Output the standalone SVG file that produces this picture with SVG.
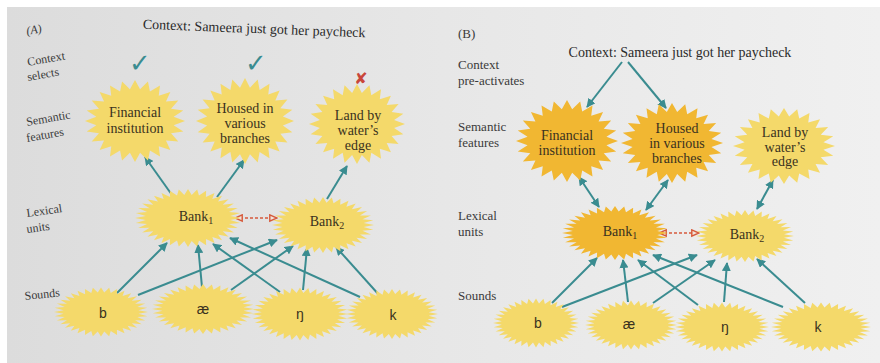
<svg xmlns="http://www.w3.org/2000/svg" xmlns:xlink="http://www.w3.org/1999/xlink" width="880" height="363" viewBox="0 0 880 363">
<style>
.lbl{font-family:"Liberation Serif","DejaVu Serif",serif;font-size:12px;fill:#3a3a3a}
.lblb{font-family:"Liberation Serif","DejaVu Serif",serif;font-size:13px;fill:#3a3a3a}
.ttl{font-family:"Liberation Serif","DejaVu Serif",serif;font-size:14px;fill:#2a2a2a}
.nt{font-family:"Liberation Serif","DejaVu Serif",serif;font-size:14px;fill:#3a3220;text-anchor:middle}
.bk{font-family:"Liberation Serif","DejaVu Serif",serif;font-size:14px;fill:#3a3220;text-anchor:middle}
.snd{font-family:"Liberation Sans","DejaVu Sans",sans-serif;font-size:14px;fill:#3a3220;text-anchor:middle}
.y{fill:#f4d96a}
.o{fill:#f1b732}
.ar{stroke:#3a8c90;stroke-width:2;fill:none;marker-end:url(#ah)}
.ar2{stroke:#3a8c90;stroke-width:2;fill:none;marker-end:url(#ah);marker-start:url(#ah)}
.rd{stroke:#d65a3c;stroke-width:1.6;stroke-dasharray:3 2;fill:none;marker-end:url(#rh);marker-start:url(#rh)}
</style>
<defs>
<linearGradient id="bg" x1="0" y1="0" x2="1" y2="0">
<stop offset="0" stop-color="#dcdcdc"/>
<stop offset="0.5" stop-color="#e7e7e7"/>
<stop offset="1" stop-color="#f0f0f0"/>
</linearGradient>
<marker id="ah" viewBox="0 0 10 10" refX="9" refY="5" markerWidth="4.5" markerHeight="4.5" orient="auto-start-reverse"><path d="M0,0 L10,5 L0,10 z" fill="#3a8c90"/></marker>
<marker id="rh" viewBox="0 0 10 10" refX="9" refY="5" markerWidth="9" markerHeight="9" markerUnits="userSpaceOnUse" orient="auto-start-reverse"><path d="M1,1.5 L9,5 L1,8.5 z" fill="#f1e4dc" stroke="#d65a3c" stroke-width="1.6"/></marker>
<polygon id="s24" points="100,0 77.33,10.18 96.59,25.88 72.06,29.85 86.6,50 61.89,47.49 70.71,70.71 47.49,61.89 50,86.6 29.85,72.06 25.88,96.59 10.18,77.33 0,100 -10.18,77.33 -25.88,96.59 -29.85,72.06 -50,86.6 -47.49,61.89 -70.71,70.71 -61.89,47.49 -86.6,50 -72.06,29.85 -96.59,25.88 -77.33,10.18 -100,0 -77.33,-10.18 -96.59,-25.88 -72.06,-29.85 -86.6,-50 -61.89,-47.49 -70.71,-70.71 -47.49,-61.89 -50,-86.6 -29.85,-72.06 -25.88,-96.59 -10.18,-77.33 0,-100 10.18,-77.33 25.88,-96.59 29.85,-72.06 50,-86.6 47.49,-61.89 70.71,-70.71 61.89,-47.49 86.6,-50 72.06,-29.85 96.59,-25.88 77.33,-10.18"/>
<polygon id="s36" points="100,0 79.7,6.97 98.48,17.36 77.27,20.71 93.97,34.2 72.5,33.81 86.6,50 65.53,45.89 76.6,64.28 56.57,56.57 64.28,76.6 45.89,65.53 50,86.6 33.81,72.5 34.2,93.97 20.71,77.27 17.36,98.48 6.97,79.7 0,100 -6.97,79.7 -17.36,98.48 -20.71,77.27 -34.2,93.97 -33.81,72.5 -50,86.6 -45.89,65.53 -64.28,76.6 -56.57,56.57 -76.6,64.28 -65.53,45.89 -86.6,50 -72.5,33.81 -93.97,34.2 -77.27,20.71 -98.48,17.36 -79.7,6.97 -100,0 -79.7,-6.97 -98.48,-17.36 -77.27,-20.71 -93.97,-34.2 -72.5,-33.81 -86.6,-50 -65.53,-45.89 -76.6,-64.28 -56.57,-56.57 -64.28,-76.6 -45.89,-65.53 -50,-86.6 -33.81,-72.5 -34.2,-93.97 -20.71,-77.27 -17.36,-98.48 -6.97,-79.7 0,-100 6.97,-79.7 17.36,-98.48 20.71,-77.27 34.2,-93.97 33.81,-72.5 50,-86.6 45.89,-65.53 64.28,-76.6 56.57,-56.57 76.6,-64.28 65.53,-45.89 86.6,-50 72.5,-33.81 93.97,-34.2 77.27,-20.71 98.48,-17.36 79.7,-6.97"/>
</defs>
<rect x="0" y="0" width="880" height="363" fill="#ffffff"/>
<rect x="7" y="7" width="873" height="356" fill="url(#bg)"/>

<g id="labels-a">
<text class="lbl" x="27" y="35" transform="rotate(-10 27 35)" font-style="italic">(A)</text>
<text class="ttl" x="254" y="33" text-anchor="middle" transform="rotate(2.2 254 33)">Context: Sameera just got her paycheck</text>
<text class="lbl" x="28" y="66" transform="rotate(-10 28 66)">Context</text>
<text class="lbl" x="28" y="81" transform="rotate(-10 28 81)">selects</text>
<text class="lbl" x="27" y="126" transform="rotate(-10 27 126)">Semantic</text>
<text class="lbl" x="27" y="142" transform="rotate(-10 27 142)">features</text>
<text class="lbl" x="27" y="217" transform="rotate(-8 27 217)">Lexical</text>
<text class="lbl" x="27" y="233" transform="rotate(-8 27 233)">units</text>
<text class="lbl" x="25" y="300" transform="rotate(-6 25 300)">Sounds</text>
<text x="140" y="72" font-family="DejaVu Sans,sans-serif" font-size="26" font-weight="bold" fill="#3a8c90" text-anchor="middle">✓</text>
<text x="256" y="72" font-family="DejaVu Sans,sans-serif" font-size="26" font-weight="bold" fill="#3a8c90" text-anchor="middle">✓</text>
<text x="361" y="84" font-family="DejaVu Sans,sans-serif" font-size="16" fill="#c9473a" text-anchor="middle">✘</text>
</g>

<g id="labels-b">
<text class="lblb" x="458" y="38">(B)</text>
<text class="ttl" x="680" y="57" text-anchor="middle">Context: Sameera just got her paycheck</text>
<text class="lblb" x="458" y="69">Context</text>
<text class="lblb" x="458" y="85">pre-activates</text>
<text class="lblb" x="458" y="131">Semantic</text>
<text class="lblb" x="458" y="147">features</text>
<text class="lblb" x="458" y="220">Lexical</text>
<text class="lblb" x="458" y="236">units</text>
<text class="lblb" x="458" y="300">Sounds</text>
</g>

<g id="connectors">
<line class="ar" x1="172" y1="195" x2="145" y2="157"/>
<line class="ar" x1="217" y1="197" x2="244" y2="160"/>
<line class="ar" x1="327" y1="199" x2="347" y2="166"/>
<line class="ar" x1="117" y1="293" x2="167" y2="243"/>
<line class="ar" x1="138" y1="295" x2="277" y2="240"/>
<line class="ar" x1="202" y1="287" x2="198" y2="245"/>
<line class="ar" x1="231" y1="290" x2="293" y2="246"/>
<line class="ar" x1="280" y1="292" x2="213" y2="244"/>
<line class="ar" x1="303" y1="290" x2="307" y2="248"/>
<line class="ar" x1="360" y1="297" x2="230" y2="238"/>
<line class="ar" x1="380" y1="296" x2="336" y2="247"/>
<line class="rd" x1="235" y1="218" x2="277" y2="218"/>

<line class="ar" x1="622" y1="62" x2="587" y2="107"/>
<line class="ar" x1="628" y1="62" x2="666" y2="108"/>
<line class="ar2" x1="579" y1="177" x2="599" y2="207"/>
<line class="ar2" x1="668" y1="180" x2="646" y2="210"/>
<line class="ar2" x1="773" y1="180" x2="757" y2="209"/>
<line class="ar" x1="552" y1="303" x2="597" y2="258"/>
<line class="ar" x1="562" y1="307" x2="697" y2="255"/>
<line class="ar" x1="628" y1="302" x2="623" y2="260"/>
<line class="ar" x1="653" y1="303" x2="715" y2="260"/>
<line class="ar" x1="698" y1="305" x2="638" y2="260"/>
<line class="ar" x1="724" y1="302" x2="727" y2="263"/>
<line class="ar" x1="783" y1="307" x2="653" y2="255"/>
<line class="ar" x1="805" y1="303" x2="757" y2="259"/>
<line class="rd" x1="659" y1="233" x2="699" y2="233"/>
</g>

<g id="a-financial"><use xlink:href="#s24" class="y" transform="translate(135,121) scale(0.5,0.41)"/>
<text class="nt" x="135" y="117">Financial</text><text class="nt" x="135" y="133">institution</text></g>
<g id="a-housed"><use xlink:href="#s24" class="y" transform="translate(245,121) scale(0.49,0.43)"/>
<text class="nt" x="245" y="113">Housed in</text><text class="nt" x="245" y="128">various</text><text class="nt" x="245" y="143">branches</text></g>
<g id="a-land"><use xlink:href="#s24" class="y" transform="translate(357,124) scale(0.48,0.4)"/>
<text class="nt" x="358" y="120">Land by</text><text class="nt" x="358" y="135">water’s</text><text class="nt" x="358" y="150">edge</text></g>
<g id="a-bank1"><use xlink:href="#s36" class="y" transform="translate(188,218) scale(0.53,0.29)"/>
<text class="bk" x="196" y="221">Bank<tspan font-size="10" dy="3">1</tspan></text></g>
<g id="a-bank2"><use xlink:href="#s36" class="y" transform="translate(323,225) scale(0.51,0.28)"/>
<text class="bk" x="327" y="226">Bank<tspan font-size="10" dy="3">2</tspan></text></g>
<g id="a-b"><use xlink:href="#s36" class="y" transform="translate(101,312) scale(0.47,0.245)"/>
<text class="snd" x="103" y="318">b</text></g>
<g id="a-ae"><use xlink:href="#s36" class="y" transform="translate(203,309) scale(0.51,0.25)"/>
<text class="snd" x="203" y="314" font-size="12">æ</text></g>
<g id="a-ng"><use xlink:href="#s36" class="y" transform="translate(300,314) scale(0.48,0.265)"/>
<text class="snd" x="300" y="319" font-size="13">ŋ</text></g>
<g id="a-k"><use xlink:href="#s36" class="y" transform="translate(392,314) scale(0.46,0.25)"/>
<text class="snd" x="393" y="320">k</text></g>

<g id="b-financial"><use xlink:href="#s24" class="o" transform="translate(567,141) scale(0.51,0.41)"/>
<text class="nt" x="567" y="140">Financial</text><text class="nt" x="567" y="155">institution</text></g>
<g id="b-housed"><use xlink:href="#s24" class="o" transform="translate(672,143) scale(0.51,0.4)"/>
<text class="nt" x="677" y="133">Housed</text><text class="nt" x="677" y="148">in various</text><text class="nt" x="677" y="163">branches</text></g>
<g id="b-land"><use xlink:href="#s24" class="y" transform="translate(784,146) scale(0.51,0.38)"/>
<text class="nt" x="785" y="137">Land by</text><text class="nt" x="785" y="152">water’s</text><text class="nt" x="785" y="166">edge</text></g>
<g id="b-bank1"><use xlink:href="#s36" class="o" transform="translate(615,233) scale(0.53,0.27)"/>
<text class="bk" x="620" y="236">Bank<tspan font-size="10" dy="3">1</tspan></text></g>
<g id="b-bank2"><use xlink:href="#s36" class="y" transform="translate(745,236) scale(0.49,0.26)"/>
<text class="bk" x="747" y="239">Bank<tspan font-size="10" dy="3">2</tspan></text></g>
<g id="b-b"><use xlink:href="#s36" class="y" transform="translate(536,323) scale(0.43,0.245)"/>
<text class="snd" x="538" y="328">b</text></g>
<g id="b-ae"><use xlink:href="#s36" class="y" transform="translate(631,325) scale(0.46,0.245)"/>
<text class="snd" x="629" y="329" font-size="12">æ</text></g>
<g id="b-ng"><use xlink:href="#s36" class="y" transform="translate(722,327) scale(0.47,0.245)"/>
<text class="snd" x="725" y="332" font-size="13">ŋ</text></g>
<g id="b-k"><use xlink:href="#s36" class="y" transform="translate(821,327) scale(0.5,0.245)"/>
<text class="snd" x="818" y="332">k</text></g>
</svg>
